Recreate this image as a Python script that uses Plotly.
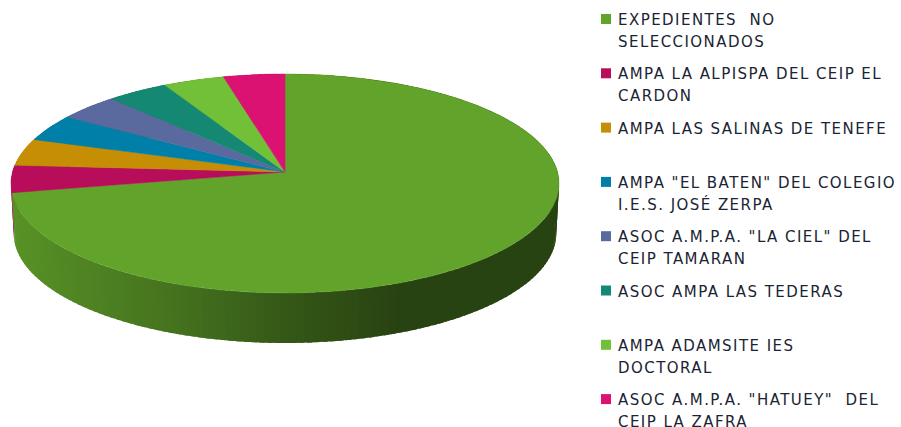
import numpy as np
import plotly.graph_objects as go

NB = "\u00a0"
labels = [
    f"EXPEDIENTES{NB} NO<br>SELECCIONADOS",
    f"AMPA LA ALPISPA DEL CEIP EL<br>CARDON",
    "AMPA LAS SALINAS DE TENEFE",
    'AMPA "EL BATEN" DEL COLEGIO<br>I.E.S. JOSÉ ZERPA',
    'ASOC A.M.P.A. "LA CIEL" DEL<br>CEIP TAMARAN',
    "ASOC AMPA LAS TEDERAS",
    "AMPA ADAMSITE IES<br>DOCTORAL",
    f'ASOC A.M.P.A. "HATUEY"{NB} DEL<br>CEIP LA ZAFRA',
]
values = [72, 4, 4, 4, 4, 4, 4, 4]
colors = ["#62a32b", "#b70d5a", "#c58e05", "#0080a8", "#5a6a9e", "#148873", "#72c038", "#dc1272"]

W, H = 901, 427
CX, CY = 285.0, 172.0
A, B, K = 272.5, 108.3, 0.105
DEPTH = 50.0
BOTTOM_SCALE = 0.99


def project(theta, depth=0.0):
    """Perspective projection of a disc point; theta is clockwise from the far side."""
    u, v = np.sin(theta), np.cos(theta)
    w = 1 + K * v
    scale = BOTTOM_SCALE if depth else 1.0
    return CX + scale * A * u / w, CY + depth - B * v / w


def shade(hex_color, x):
    f = np.interp(x, [10, 100, 200, 285, 400, 560], [0.9, 0.79, 0.67, 0.54, 0.41, 0.41])
    r, g, b = (int(hex_color[i:i + 2], 16) for i in (1, 3, 5))
    return f"rgb({r * f:.0f},{g * f:.0f},{b * f:.0f})"


fig = go.Figure()
edges = np.cumsum([0] + values) / sum(values) * 2 * np.pi

# side wall: thin overlapping strips, shaded by horizontal position
# (small slices first so the large slice's wall sits in front at the left edge)
for name, col, t0, t1 in list(zip(labels, colors, edges[:-1], edges[1:]))[::-1]:
    n = max(2, int((t1 - t0) / np.radians(1.5)))
    steps = np.linspace(t0, t1, n + 1)
    for a, b in zip(steps[:-1], steps[1:]):
        tt = np.linspace(a, min(b + np.radians(1.0), t1), 4)
        x_t, y_t = project(tt)
        x_b, y_b = project(tt[::-1], DEPTH)
        c = shade(col, x_t[:2].mean())
        fig.add_trace(go.Scatter(
            x=np.r_[x_t, x_b], y=np.r_[y_t, y_b], mode="lines", fill="toself",
            fillcolor=c, line=dict(width=0), hoverinfo="skip", showlegend=False))

# top faces
for name, col, val, t0, t1 in zip(labels, colors, values, edges[:-1], edges[1:]):
    tt = np.linspace(t0, t1, max(4, int((t1 - t0) / np.radians(1.0))))
    x_t, y_t = project(tt)
    fig.add_trace(go.Scatter(
        x=np.r_[CX, x_t, CX], y=np.r_[CY, y_t, CY], mode="lines", fill="toself",
        fillcolor=col, line=dict(color=col, width=0.5), name=name.replace("<br>", " "),
        text=f"{val}%", hoverinfo="name+text", showlegend=False))

# legend
ROW0, ROW_STEP, LINE_STEP = 19.0, 54.3, 21.7
annotations = []
for i, (name, col) in enumerate(zip(labels, colors)):
    y = ROW0 + i * ROW_STEP
    fig.add_trace(go.Scatter(
        x=[606], y=[y], mode="markers",
        marker=dict(symbol="square", size=10, color=col), hoverinfo="skip", showlegend=False))
    for j, line in enumerate(name.split("<br>")):
        annotations.append(dict(
            x=618, y=y + j * LINE_STEP, xref="x", yref="y", text=line, showarrow=False,
            xanchor="left", yanchor="middle", xshift=-2, yshift=-1, align="left",
            font=dict(family="DejaVu Sans", size=15, color="#1a2433")))

fig.update_layout(
    width=W, height=H, margin=dict(l=0, r=0, t=0, b=0),
    paper_bgcolor="white", plot_bgcolor="white", annotations=annotations,
    xaxis=dict(range=[0, W], visible=False, fixedrange=True),
    yaxis=dict(range=[H, 0], visible=False, fixedrange=True),
)
fig.write_html("out.html", config={"displayModeBar": False},
               post_script="document.body.style.margin='0';document.body.style.overflow='hidden';"
                           "document.querySelectorAll('.annotation-text').forEach("
                           "t=>{t.style.letterSpacing='1.45px';});")
